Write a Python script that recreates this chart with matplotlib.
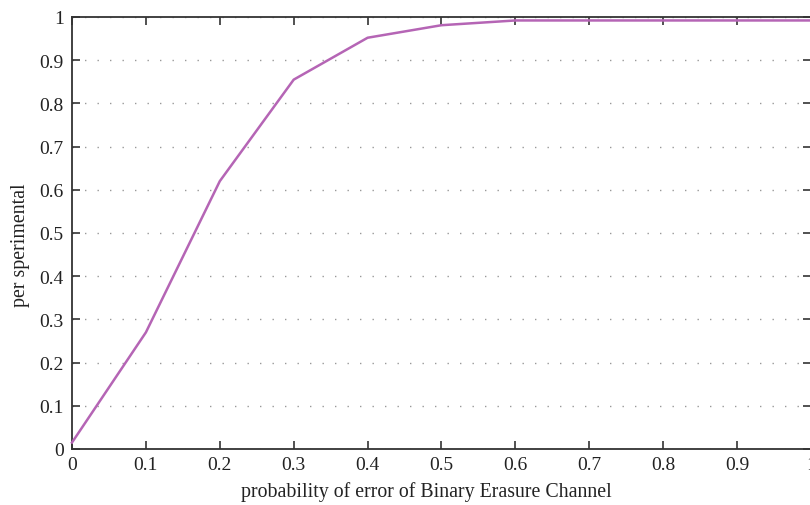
import matplotlib
matplotlib.use("Agg")
import matplotlib.pyplot as plt

p_error = [0.0, 0.1, 0.2, 0.3, 0.4, 0.5, 0.6, 0.7, 0.8, 0.9, 1.0]
per_values = [0.015, 0.27, 0.62, 0.855, 0.952, 0.981, 0.992, 0.992, 0.992, 0.992, 0.992]
x_ticks = [0, 0.1, 0.2, 0.3, 0.4, 0.5, 0.6, 0.7, 0.8, 0.9, 1]
x_tick_labels = ["0", "0.1", "0.2", "0.3", "0.4", "0.5", "0.6", "0.7", "0.8", "0.9", "1"]
y_ticks = [0, 0.1, 0.2, 0.3, 0.4, 0.5, 0.6, 0.7, 0.8, 0.9, 1]
y_tick_labels = ["0", "0.1", "0.2", "0.3", "0.4", "0.5", "0.6", "0.7", "0.8", "0.9", "1"]

plt.rcParams['font.family'] = ['Liberation Serif', 'DejaVu Serif']

W, H = 810, 506
fig = plt.figure(figsize=(W/100, H/100), dpi=100)
left, right, top, bottom = 72, 811, 18, 450
aw, ah = right - left, bottom - top
ax = fig.add_axes([left/W, 1 - bottom/H, aw/W, ah/H])

ax.plot(p_error, per_values, color='#b565b5', linewidth=1.8, clip_on=False, zorder=3)

ax.set_xlim(0, 1)
ax.set_ylim(0, 1)
ax.set_xticks(x_ticks)
ax.set_xticklabels(x_tick_labels)
ax.set_yticks(y_ticks)
ax.set_yticklabels(y_tick_labels)
ax.tick_params(direction='in', length=6, width=1.2, colors='#333333', labelsize=14,
               top=True, right=True, labelcolor='#222222')
ax.tick_params(axis='x', pad=5)
ax.tick_params(axis='y', pad=6)
ax.yaxis.grid(True, linestyle=(0, (1, 8)), color='#999999', linewidth=1.0)
ax.xaxis.grid(False)
for s in ax.spines.values():
    s.set_color('#333333')
    s.set_linewidth(1.3)

ax.set_xlabel('probability of error of Binary Erasure Channel', fontsize=14.3, color='#222222')
ax.set_ylabel('per sperimental', fontsize=14.3, color='#222222')
ax.xaxis.set_label_coords((426 - left) / aw, (bottom - 492) / ah)
ax.xaxis.label.set_va('center')
ax.yaxis.set_label_coords((21 - left) / aw, (bottom - 245) / ah)
ax.yaxis.label.set_va('center')

fig.savefig('out.png', dpi=100)
